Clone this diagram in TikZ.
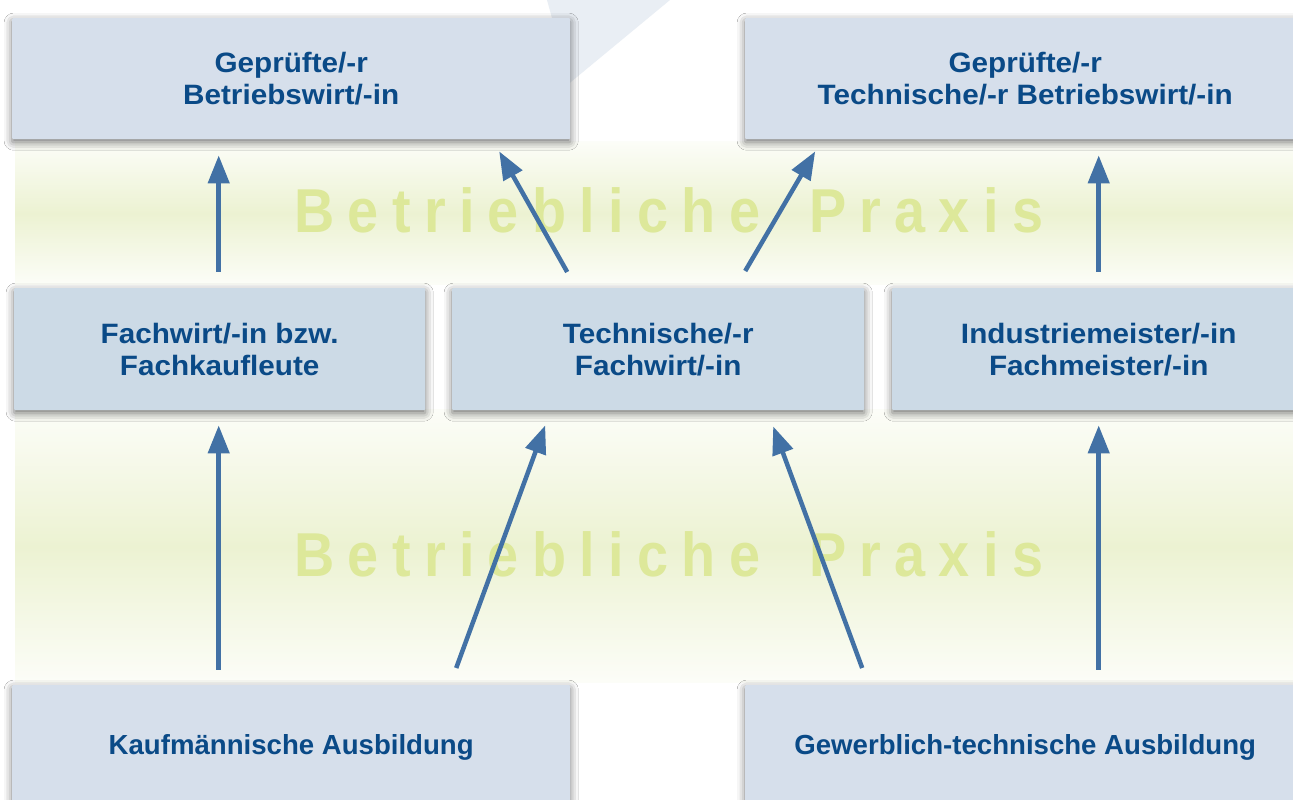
\documentclass[tikz,border=0pt]{standalone}
\usepackage{fontspec}
\setmainfont{Liberation Sans}
\newfontfamily\boxfont{Liberation Sans}[FakeStretch=1.06]
\newfontfamily\praxisfont{Liberation Sans}[LetterSpace=21.5, FakeStretch=0.9]
\usetikzlibrary{arrows.meta,shadows.blur,calc}
\definecolor{boxtext}{RGB}{10,74,135}
\definecolor{topfill}{RGB}{214,223,235}
\definecolor{midfill}{RGB}{204,218,230}
\definecolor{arrowblue}{RGB}{66,113,165}
\definecolor{praxisgreen}{RGB}{221,232,154}
\definecolor{bandgreen}{RGB}{236,242,210}
\definecolor{bandedge}{RGB}{252,253,248}
\definecolor{wedge}{RGB}{233,238,244}
\begin{document}
\begin{tikzpicture}[x=1pt,y=1pt,
  box/.style={rounded corners=1pt, inner sep=0pt, align=center, text=boxtext,
    font=\boxfont\bfseries\fontsize{28}{32}\selectfont, anchor=north west,
    blur shadow={shadow xshift=0pt, shadow yshift=-3pt, shadow blur radius=8pt, shadow opacity=55}},
  upperbox/.style={box, fill=topfill},
  middlebox/.style={box, fill=midfill},
  basebox/.style={upperbox, font=\bfseries\fontsize{27.6}{32}\selectfont},
  arr/.style={draw=arrowblue, line width=4.5pt, -{Triangle[length=28pt,width=21pt]}},
  praxis/.style={text=praxisgreen, font=\praxisfont\bfseries\fontsize{62}{62}\selectfont, anchor=base west, inner sep=0pt},
  band/.style={top color=bandedge, bottom color=bandedge, middle color=bandgreen}]

% page and background
\useasboundingbox (0,0) rectangle (1293,800);
\fill[white] (0,0) rectangle (1293,800);

% light wedge behind the top row
\fill[wedge] (547,800) -- (670,800) -- (560,709) -- (552,782) -- cycle;

% bands of work experience
\shade[band] (15,515) rectangle (1293,658);
\shade[band] (15,117) rectangle (1293,390);
\node[praxis] (p1) at (294,567) {Betriebliche\hspace{20pt} Praxis};
\node[praxis] (p2) at (294,223) {Betriebliche\hspace{20pt} Praxis};

% top row
\node[upperbox, minimum width=558pt, minimum height=121pt] (gb) at (12,782) {Geprüfte/-r\\Betriebswirt/-in};
\node[upperbox, minimum width=560pt, minimum height=121pt] (gtb) at (745,782) {Geprüfte/-r\\Technische/-r Betriebswirt/-in};

% middle row
\node[middlebox, minimum width=411pt, minimum height=122pt] (fw) at (14,512) {Fachwirt/-in bzw.\\Fachkaufleute};
\node[middlebox, minimum width=412pt, minimum height=122pt] (tf) at (452,512) {Technische/-r\\Fachwirt/-in};
\node[middlebox, minimum width=413pt, minimum height=122pt] (im) at (892,512) {Industriemeister/-in\\Fachmeister/-in};

% bottom row
\node[basebox, minimum width=558pt, minimum height=125pt] (ka) at (12,115) {Kaufmännische Ausbildung};
\node[basebox, minimum width=560pt, minimum height=125pt] (gt) at (745,115) {Gewerblich-technische Ausbildung};

% upper arrows
\draw[arr] ($(fw.north)+(-1,16)$) -- ($(fw.north |- gb.south)+(-1,-16)$);
\draw[arr] ($(tf.north)+(-91,16)$) -- ($(gb.south)+(208,-12)$);
\draw[arr] ($(tf.north)+(87,17)$) -- ($(gtb.south)+(-210,-12)$);
\draw[arr] ($(im.north)+(0,16)$) -- ($(im.north |- gtb.south)+(0,-16)$);

% lower arrows
\draw[arr] ($(fw.south |- ka.north)+(-1,15)$) -- ($(fw.south)+(-1,-15)$);
\draw[arr] ($(ka.north)+(165,17)$) -- ($(tf.south)+(-113,-15)$);
\draw[arr] ($(gt.north)+(-163,17)$) -- ($(tf.south)+(115,-16)$);
\draw[arr] ($(im.south |- gt.north)+(0,15)$) -- ($(im.south)+(0,-15)$);
\end{tikzpicture}
\end{document}
